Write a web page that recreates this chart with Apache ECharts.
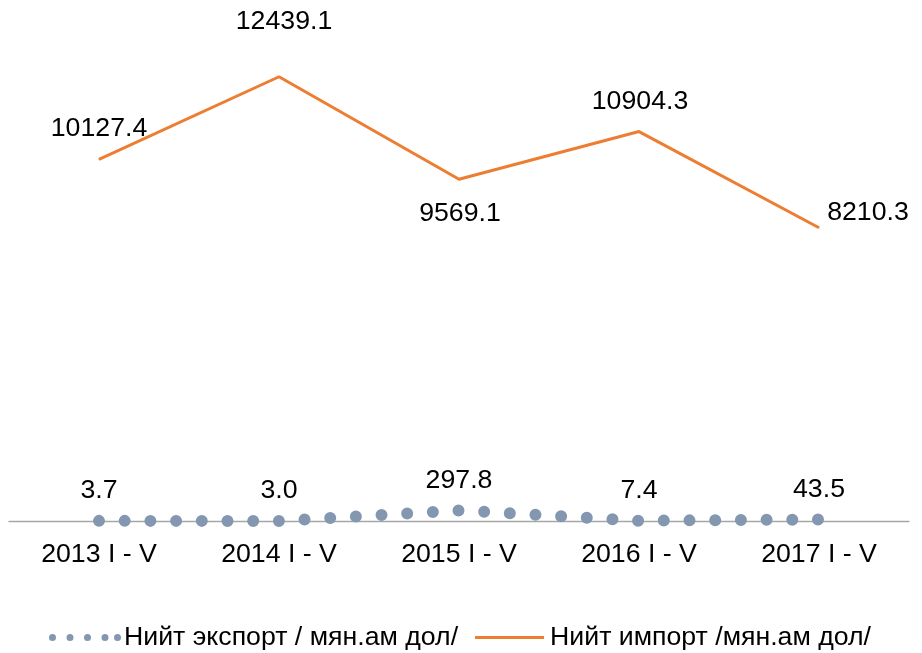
<!DOCTYPE html>
<html>
<head>
<meta charset="utf-8">
<script src="https://cdn.jsdelivr.net/npm/echarts@6/dist/echarts.min.js"></script>
<style>
  html, body { margin: 0; padding: 0; background: #fff; }
  #chart { width: 922px; height: 653px; }
</style>
</head>
<body>
<div id="chart"></div>
<script>
// Periods (January–May of each year)
const categories = ['2013 I - V', '2014 I - V', '2015 I - V', '2016 I - V', '2017 I - V'];

// Total export, million US dollars
const exportName = 'Нийт экспорт / мян.ам дол/';
const exportValues = [3.7, 3.0, 297.8, 7.4, 43.5];

// Total import, million US dollars
const importName = 'Нийт импорт /мян.ам дол/';
const importValues = [10127.4, 12439.1, 9569.1, 10904.3, 8210.3];

// Label placement for the import points ([dx, dy] in pixels from the point)
const importLabelOffsets = [[0, -31], [5, -55], [1, 34], [1, -30], [49, -15]];

const FONT = "'Liberation Sans', Arial, sans-serif";
const FS = 26.7;
const ORANGE = '#ED7D31';
const BLUE = '#8497B0';

// Legend icons, both in a 72x14 box (corner points fix the box size)
function dot(cx, cy, r) {
  return 'M' + (cx - r) + ',' + cy +
    ' a' + r + ',' + r + ' 0 1,0 ' + (2 * r) + ',0' +
    ' a' + r + ',' + r + ' 0 1,0 ' + (-2 * r) + ',0 Z';
}
const BOX = ' M0,0 L0.01,0 M72,14 L71.99,14';
const exportIcon = 'path://' + [3.5, 21, 38.5, 56, 68.5].map(x => dot(x, 7, 3.5)).join(' ') + BOX;
const importIcon = 'path://M0,5.5 L69,5.5 L69,8.5 L0,8.5 Z' + BOX;

const oneDecimal = p => Number(p.value).toFixed(1);

const chart = echarts.init(document.getElementById('chart'));

const importData = importValues.map((v, i) => ({
  value: v,
  label: { offset: importLabelOffsets[i] }
}));

chart.setOption({
  animation: false,
  textStyle: { fontFamily: FONT },
  grid: { left: 9, right: 13, top: 21, bottom: 132, containLabel: false },
  xAxis: {
    type: 'category',
    data: categories,
    boundaryGap: true,
    axisLine: { lineStyle: { color: '#A6A6A6', width: 1.3 } },
    axisTick: { show: false },
    axisLabel: { color: '#000', fontSize: FS, fontFamily: FONT, margin: 20 }
  },
  yAxis: {
    type: 'value',
    min: 0,
    max: 14000,
    show: false,
    splitLine: { show: false }
  },
  legend: {
    bottom: -3,
    left: 44,
    itemGap: 17,
    itemWidth: 72,
    itemHeight: 14,
    textStyle: { color: '#000', fontSize: FS, fontFamily: FONT, padding: [0, 0, 0, -2] },
    data: [
      { name: exportName, icon: exportIcon, itemStyle: { color: BLUE, borderWidth: 0 } },
      { name: importName, icon: importIcon, itemStyle: { color: ORANGE, borderWidth: 0 } }
    ]
  },
  series: [
    {
      name: exportName,
      type: 'line',
      data: exportValues,
      symbol: 'circle',
      symbolSize: 1,
      z: 3,
      lineStyle: { color: BLUE, width: 12, type: [0, 25.7], cap: 'round' },
      itemStyle: { color: BLUE },
      label: {
        show: true,
        position: 'top',
        distance: 16,
        formatter: oneDecimal,
        color: '#000',
        fontSize: FS,
        fontFamily: FONT
      }
    },
    {
      name: importName,
      type: 'line',
      data: importData,
      symbol: 'circle',
      symbolSize: 1,
      lineStyle: { color: ORANGE, width: 3 },
      itemStyle: { color: ORANGE },
      label: {
        show: true,
        position: 'inside',
        formatter: oneDecimal,
        color: '#000',
        fontSize: FS,
        fontFamily: FONT
      }
    }
  ]
});
</script>
</body>
</html>
